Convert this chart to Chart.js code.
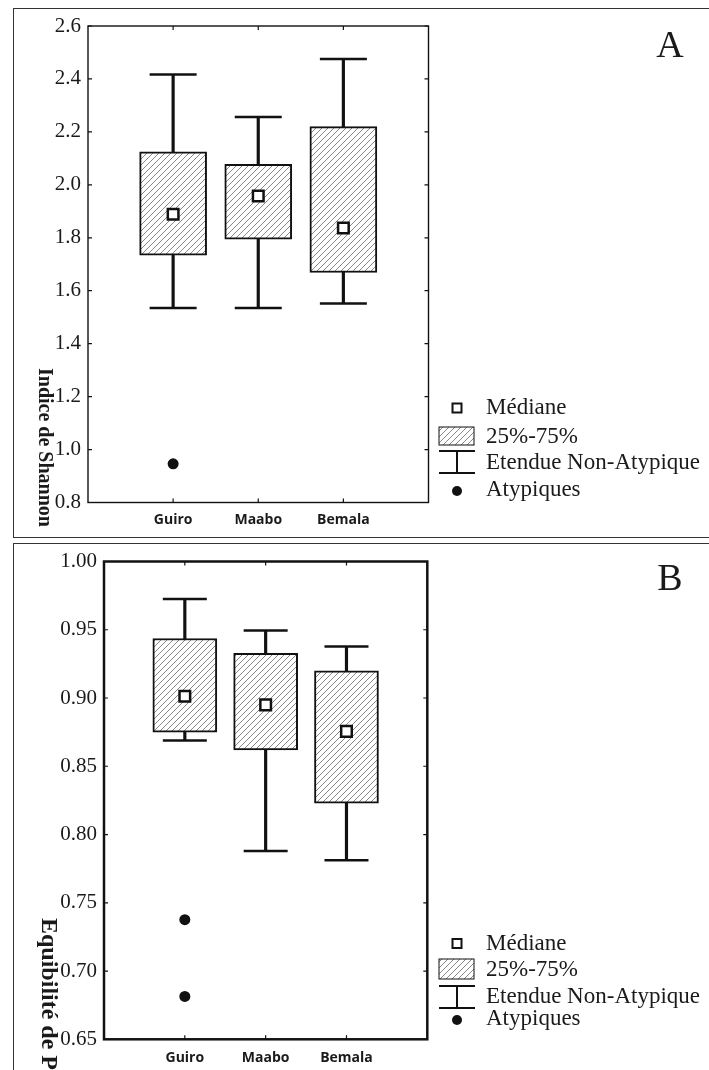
<!DOCTYPE html>
<html>
<head>
<meta charset="utf-8">
<script src="https://cdn.jsdelivr.net/npm/chart.js@4.4.1/dist/chart.umd.min.js"></script>
<style>
    html, body { margin: 0; padding: 0; background: #fff; overflow: hidden; }
    #page { position: relative; width: 709px; height: 1070px; overflow: hidden; }
    .frame { position: absolute; left: 13px; width: 720px; border: 1.5px solid #333; box-sizing: border-box; }
    .holder { position: absolute; left: 0; width: 709px; }
</style>
</head>
<body>
<div id="page">
    <div class="frame" style="top:8px; height:530px;"></div>
    <div class="frame" style="top:543px; height:560px;"></div>
    <div class="holder" style="top:0; height:537px;"><canvas id="chartA"></canvas></div>
    <div class="holder" style="top:537px; height:533px;"><canvas id="chartB"></canvas></div>
</div>
<script>
const categories = ['Guiro', 'Maabo', 'Bemala'];

// A - Shannon index
const shannonQ1 = [1.734, 1.795, 1.669];
const shannonQ3 = [2.125, 2.077, 2.22];
const shannonMedian = [1.889, 1.958, 1.837];
const shannonLow = [1.535, 1.535, 1.552];
const shannonHigh = [2.417, 2.256, 2.475];
const shannonOutliers = [[0.946], [], []];

// B - Pielou evenness
const pielouQ1 = [0.875, 0.862, 0.823];
const pielouQ3 = [0.9436, 0.9328, 0.920];
const pielouMedian = [0.9013, 0.895, 0.8756];
const pielouLow = [0.8688, 0.788, 0.7812];
const pielouHigh = [0.9726, 0.9494, 0.9378];
const pielouOutliers = [[0.7376, 0.6814], [], []];

const legendLabels = ['Médiane', '25%-75%', 'Etendue Non-Atypique', 'Atypiques'];

Chart.defaults.font.family = "'Liberation Serif', 'Times New Roman', serif";
Chart.defaults.color = '#1a1a1a';

function makeHatch(ctx, s) {
    const c = document.createElement('canvas');
    c.width = s; c.height = s;
    const g = c.getContext('2d');
    g.fillStyle = '#fff';
    g.fillRect(0, 0, s, s);
    g.strokeStyle = '#6a6a6a';
    g.lineWidth = 0.8;
    g.beginPath();
    g.moveTo(0, s); g.lineTo(s, 0);
    g.moveTo(-s, s); g.lineTo(s, -s);
    g.moveTo(0, 2 * s); g.lineTo(2 * s, 0);
    g.stroke();
    return ctx.createPattern(c, 'repeat');
}

function decoPlugin(cfg) {
    return {
        id: 'deco',
        afterDraw(chart) {
            const ctx = chart.ctx;
            const a = chart.chartArea;
            const ys = chart.scales.y, xs = chart.scales.x;
            ctx.save();
            ctx.strokeStyle = '#111';
            ctx.lineWidth = cfg.frameWidth;
            ctx.strokeRect(a.left, a.top, a.right - a.left, a.bottom - a.top);
            // inner ticks
            ctx.lineWidth = 1.2;
            ctx.beginPath();
            ys.ticks.forEach(t => {
                const y = ys.getPixelForValue(t.value);
                ctx.moveTo(a.left, y); ctx.lineTo(a.left + 4, y);
                ctx.moveTo(a.right, y); ctx.lineTo(a.right - 4, y);
            });
            categories.forEach((c, i) => {
                const x = xs.getPixelForValue(i + 1);
                ctx.moveTo(x, a.top); ctx.lineTo(x, a.top + 4);
                ctx.moveTo(x, a.bottom); ctx.lineTo(x, a.bottom - 4);
            });
            ctx.stroke();

            // y title, rotated clockwise
            ctx.fillStyle = '#1a1a1a';
            ctx.save();
            ctx.translate(cfg.titleX, cfg.titleY);
            ctx.rotate(Math.PI / 2);
            ctx.font = 'bold ' + cfg.titleSize + "px 'Liberation Serif'";
            ctx.textAlign = 'left';
            ctx.textBaseline = 'middle';
            ctx.fillText(cfg.title, 0, 0);
            ctx.restore();

            // panel letter
            ctx.font = "38px 'Liberation Serif'";
            ctx.textAlign = 'center';
            ctx.textBaseline = 'middle';
            ctx.fillText(cfg.letter, 670, cfg.letterY);

            // legend
            const L = cfg.legend;
            const sx = 457;
            ctx.lineWidth = 2;
            ctx.strokeStyle = '#111';
            ctx.fillStyle = '#fff';
            ctx.fillRect(sx - 4.5, L.rows[0] - 4.5, 9, 9);
            ctx.strokeRect(sx - 4.5, L.rows[0] - 4.5, 9, 9);
            ctx.fillStyle = cfg.hatch;
            ctx.fillRect(439, L.boxTop, 35, L.boxBottom - L.boxTop);
            ctx.lineWidth = 1;
            ctx.strokeRect(439, L.boxTop, 35, L.boxBottom - L.boxTop);
            ctx.lineWidth = 2;
            ctx.beginPath();
            ctx.moveTo(439, L.wTop); ctx.lineTo(475, L.wTop);
            ctx.moveTo(439, L.wBottom); ctx.lineTo(475, L.wBottom);
            ctx.moveTo(sx, L.wTop); ctx.lineTo(sx, L.wBottom);
            ctx.stroke();
            ctx.fillStyle = '#111';
            ctx.beginPath();
            ctx.arc(sx, L.rows[3] + 1, 5, 0, Math.PI * 2);
            ctx.fill();
            ctx.fillStyle = '#1a1a1a';
            ctx.font = "23px 'Liberation Serif'";
            ctx.textAlign = 'left';
            ctx.textBaseline = 'middle';
            legendLabels.forEach((t, i) => ctx.fillText(t, 486, L.rows[i]));
            ctx.restore();
        }
    };
}

function boxChart(canvasId, data, cfg) {
    const ctx = document.getElementById(canvasId).getContext('2d');
    const hatch = makeHatch(ctx, 6);
    cfg.hatch = hatch;
    const pts = arr => arr.map((v, i) => ({x: i + 1, y: v}));
    const outlierPts = [];
    data.outliers.forEach((list, i) => list.forEach(v => outlierPts.push({x: i + 1, y: v})));
    return new Chart(ctx, {
        type: 'bar',
        data: {
            datasets: [
                {
                    type: 'bar',
                    data: data.low.map((v, i) => ({x: i + 1, y: [v, data.high[i]]})),
                    backgroundColor: '#111',
                    barThickness: 2.5,
                    grouped: false,
                    order: 5
                },
                {
                    type: 'bar',
                    data: data.q1.map((v, i) => ({x: i + 1, y: [v, data.q3[i]]})),
                    backgroundColor: hatch,
                    borderColor: '#111',
                    borderWidth: 2,
                    borderSkipped: false,
                    barThickness: cfg.boxWidth,
                    grouped: false,
                    order: 4
                },
                {
                    type: 'scatter',
                    data: pts(data.low).concat(pts(data.high)),
                    pointStyle: 'line',
                    pointRadius: cfg.capHalf,
                    borderColor: '#111',
                    borderWidth: 2.5,
                    order: 3
                },
                {
                    type: 'scatter',
                    data: pts(data.median),
                    pointStyle: 'rect',
                    pointRadius: 7.5,
                    backgroundColor: '#fff',
                    borderColor: '#111',
                    borderWidth: 2.5,
                    order: 2
                },
                {
                    type: 'scatter',
                    data: outlierPts,
                    pointStyle: 'circle',
                    pointRadius: 5.5,
                    backgroundColor: '#111',
                    borderWidth: 0,
                    order: 1
                }
            ]
        },
        options: {
            responsive: true,
            maintainAspectRatio: false,
            animation: false,
            events: [],
            layout: {padding: {top: cfg.padTop, right: cfg.padRight, left: 0, bottom: 0}},
            plugins: {legend: {display: false}, tooltip: {enabled: false}},
            scales: {
                x: {
                    type: 'linear',
                    min: 0,
                    max: 4,
                    offset: false,
                    grid: {display: false, drawTicks: false},
                    border: {display: false},
                    afterFit: s => { s.height = cfg.xHeight; },
                    ticks: {
                        stepSize: 1,
                        autoSkip: false,
                        maxRotation: 0,
                        padding: cfg.xPad,
                        color: '#1a1a1a',
                        font: {family: "'Open Sans', sans-serif", size: 14, weight: 'bold'},
                        callback: v => categories[v - 1] || ''
                    }
                },
                y: {
                    min: cfg.yMin,
                    max: cfg.yMax,
                    grid: {display: false, drawTicks: false},
                    border: {display: false},
                    afterFit: s => { s.width = cfg.yWidth; },
                    ticks: {
                        stepSize: cfg.yStep,
                        padding: 7,
                        color: '#1a1a1a',
                        font: {size: 21},
                        callback: v => v.toFixed(cfg.decimals)
                    }
                }
            }
        },
        plugins: [decoPlugin(cfg)]
    });
}

boxChart('chartA', {
    q1: shannonQ1, q3: shannonQ3, median: shannonMedian,
    low: shannonLow, high: shannonHigh, outliers: shannonOutliers
}, {
    padTop: 24.5, padRight: 280.5, xHeight: 34.5, yWidth: 88, xPad: 9,
    yMin: 0.8, yMax: 2.6, yStep: 0.2, decimals: 1,
    boxWidth: 67, capHalf: 23.5, frameWidth: 1.4,
    title: 'Indice de Shannon', titleX: 44, titleY: 368, titleSize: 20,
    letter: 'A', letterY: 47,
    legend: {rows: [408, 436.5, 462.5, 490], boxTop: 427, boxBottom: 445, wTop: 451, wBottom: 473}
});

boxChart('chartB', {
    q1: pielouQ1, q3: pielouQ3, median: pielouMedian,
    low: pielouLow, high: pielouHigh, outliers: pielouOutliers
}, {
    padTop: 23.7, padRight: 281.7, xHeight: 30.7, yWidth: 104, xPad: 10,
    yMin: 0.65, yMax: 1.0, yStep: 0.05, decimals: 2,
    boxWidth: 64, capHalf: 22, frameWidth: 2.5,
    title: 'Equibilité de Piélou', titleX: 48, titleY: 381, titleSize: 24,
    letter: 'B', letterY: 43,
    legend: {rows: [406.5, 433, 459.5, 482], boxTop: 422, boxBottom: 442, wTop: 449, wBottom: 471}
});
</script>
</body>
</html>
